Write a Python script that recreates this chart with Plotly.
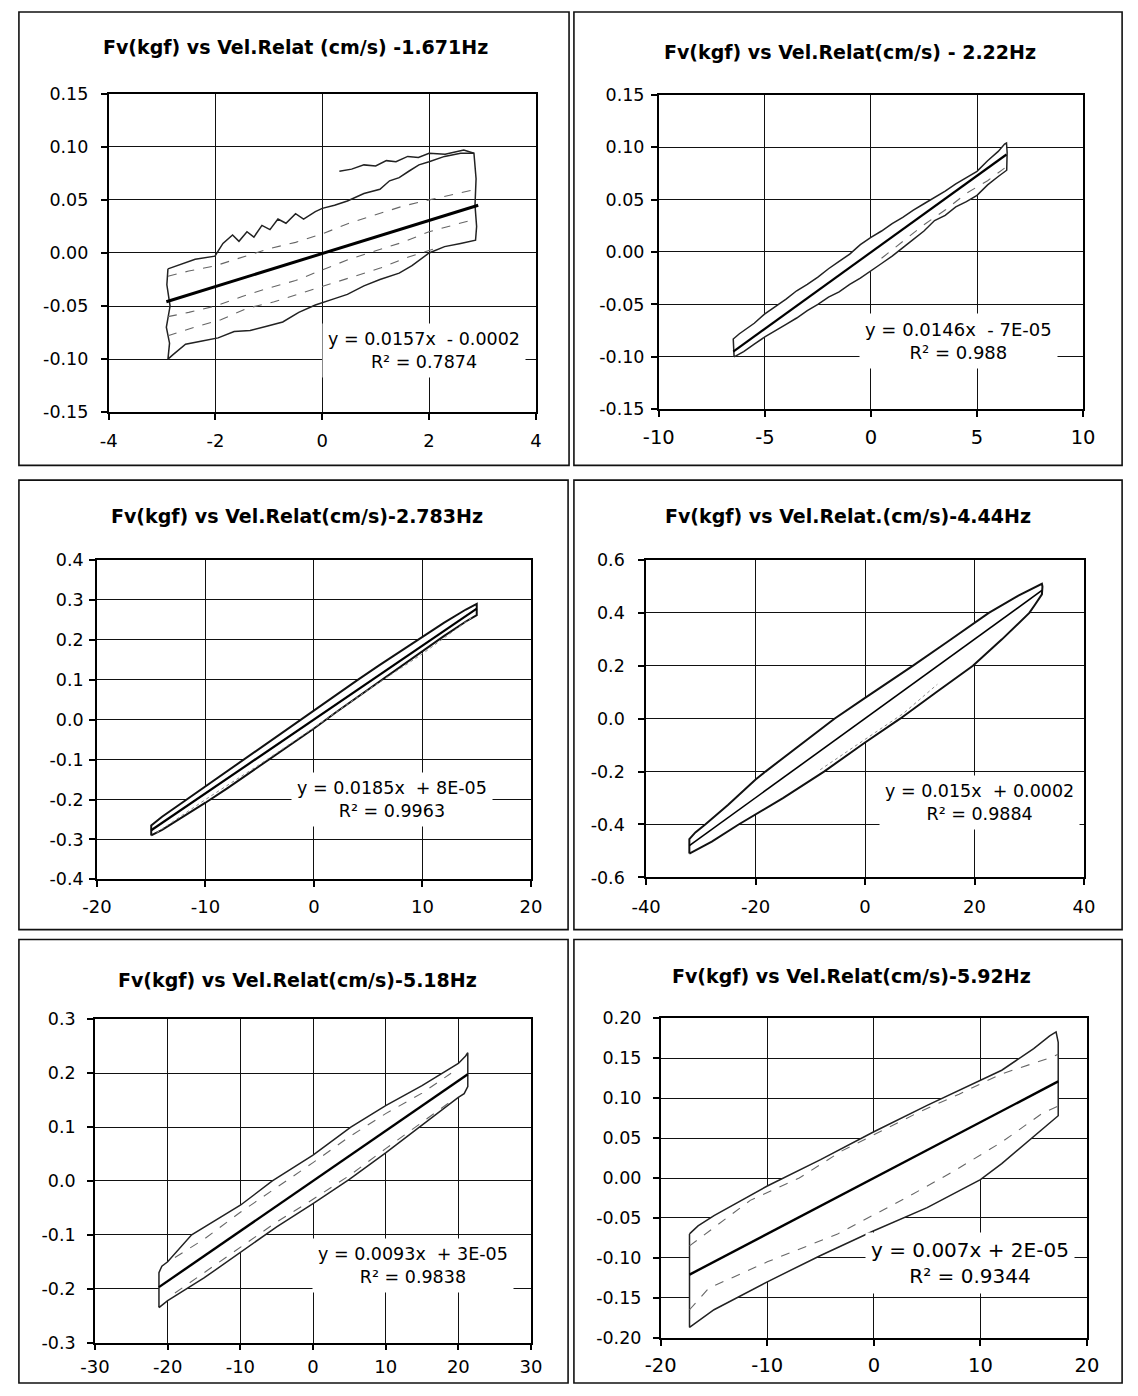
import plotly.graph_objects as go

FONT = "DejaVu Sans"
W, H = 1138, 1396

# ---------------- DATA ----------------
titles = [
    "Fv(kgf) vs Vel.Relat (cm/s) -1.671Hz",
    "Fv(kgf) vs Vel.Relat(cm/s) - 2.22Hz",
    "Fv(kgf) vs Vel.Relat(cm/s)-2.783Hz",
    "Fv(kgf) vs Vel.Relat.(cm/s)-4.44Hz",
    "Fv(kgf) vs Vel.Relat(cm/s)-5.18Hz",
    "Fv(kgf) vs Vel.Relat(cm/s)-5.92Hz",
]
equations = [
    ("y = 0.0157x  - 0.0002", "R² = 0.7874"),
    ("y = 0.0146x  - 7E-05", "R² = 0.988"),
    ("y = 0.0185x  + 8E-05", "R² = 0.9963"),
    ("y = 0.015x  + 0.0002", "R² = 0.9884"),
    ("y = 0.0093x  + 3E-05", "R² = 0.9838"),
    ("y = 0.007x + 2E-05", "R² = 0.9344"),
]

# tick values / labels
x_ticks = [[-4, -2, 0, 2, 4], [-10, -5, 0, 5, 10], [-20, -10, 0, 10, 20],
           [-40, -20, 0, 20, 40], [-30, -20, -10, 0, 10, 20, 30], [-20, -10, 0, 10, 20]]
x_ticktext = [["-4", "-2", "0", "2", "4"], ["-10", "-5", "0", "5", "10"], ["-20", "-10", "0", "10", "20"],
              ["-40", "-20", "0", "20", "40"], ["-30", "-20", "-10", "0", "10", "20", "30"],
              ["-20", "-10", "0", "10", "20"]]
y_ticks = [[-0.15, -0.10, -0.05, 0.0, 0.05, 0.10, 0.15],
           [-0.15, -0.10, -0.05, 0.0, 0.05, 0.10, 0.15],
           [-0.4, -0.3, -0.2, -0.1, 0.0, 0.1, 0.2, 0.3, 0.4],
           [-0.6, -0.4, -0.2, 0.0, 0.2, 0.4, 0.6],
           [-0.3, -0.2, -0.1, 0.0, 0.1, 0.2, 0.3],
           [-0.20, -0.15, -0.10, -0.05, 0.0, 0.05, 0.10, 0.15, 0.20]]
y_ticktext = [["-0.15", "-0.10", "-0.05", "0.00", "0.05", "0.10", "0.15"],
              ["-0.15", "-0.10", "-0.05", "0.00", "0.05", "0.10", "0.15"],
              ["-0.4", "-0.3", "-0.2", "-0.1", "0.0", "0.1", "0.2", "0.3", "0.4"],
              ["-0.6", "-0.4", "-0.2", "0.0", "0.2", "0.4", "0.6"],
              ["-0.3", "-0.2", "-0.1", "0.0", "0.1", "0.2", "0.3"],
              ["-0.20", "-0.15", "-0.10", "-0.05", "0.00", "0.05", "0.10", "0.15", "0.20"]]

# Panel 1 (1.671 Hz)
p1_loop_x = [-2.89, -2.68, -2.38, -2.01, -1.86, -1.68, -1.56, -1.41, -1.28, -1.13,
             -0.98, -0.83, -0.68, -0.50, -0.35, -0.13, 0.00, 0.23, 0.47, 0.78,
             1.08, 1.26, 1.44, 1.62, 1.81, 2.00, 2.29, 2.59, 2.84, 2.88,
             2.86, 2.89, 2.87, 2.59, 2.29, 2.00, 1.68, 1.44, 1.08, 0.78,
             0.47, 0.23, -0.13, -0.44, -0.74, -1.04, -1.35, -1.65, -1.95, -2.25,
             -2.56, -2.80, -2.89, -2.86, -2.92, -2.85, -2.91, -2.89]
p1_loop_y = [-0.015, -0.011, -0.006, -0.003, 0.009, 0.017, 0.011, 0.020, 0.015, 0.026,
             0.022, 0.032, 0.028, 0.037, 0.032, 0.039, 0.042, 0.045, 0.049, 0.056,
             0.060, 0.068, 0.071, 0.077, 0.083, 0.086, 0.091, 0.094, 0.094, 0.070,
             0.045, 0.025, 0.012, 0.009, 0.006, 0.000, -0.012, -0.019, -0.025, -0.031,
             -0.039, -0.043, -0.049, -0.056, -0.065, -0.069, -0.073, -0.074, -0.080, -0.083,
             -0.086, -0.096, -0.100, -0.085, -0.070, -0.050, -0.030, -0.015]
p1_top_x = [0.32, 0.55, 0.78, 1.00, 1.20, 1.38, 1.60, 1.80, 2.00, 2.30, 2.65, 2.84]
p1_top_y = [0.077, 0.079, 0.083, 0.082, 0.087, 0.086, 0.091, 0.090, 0.094, 0.093, 0.097, 0.094]
p1_in1_x = [-2.89, -2.5, -2.0, -1.5, -1.0, -0.5, 0.0, 0.5, 1.0, 1.5, 2.0, 2.5, 2.87]
p1_in1_y = [-0.022, -0.017, -0.012, -0.004, 0.004, 0.010, 0.018, 0.028, 0.036, 0.044, 0.050, 0.056, 0.060]
p1_in2_x = [-2.89, -2.5, -2.0, -1.5, -1.0, -0.5, 0.0, 0.5, 1.0, 1.5, 2.0, 2.5, 2.87]
p1_in2_y = [-0.060, -0.056, -0.050, -0.041, -0.033, -0.026, -0.016, -0.006, 0.002, 0.010, 0.020, 0.027, 0.032]
p1_in3_x = [-2.89, -2.4, -1.9, -1.4, -0.9, -0.4, 0.1, 0.6, 1.1, 1.6, 2.1]
p1_in3_y = [-0.078, -0.070, -0.063, -0.052, -0.046, -0.038, -0.030, -0.022, -0.014, -0.004, 0.004]
p1_trend_x = [-2.92, 2.92]
p1_trend_y = [-0.046, 0.045]

# Panel 2 (2.22 Hz)
p2_loop_x = [-6.45, -6.49, -6.2, -5.5, -5.0, -4.5, -4.0, -3.5, -3.0, -2.5, -2.0, -1.5, -1.0, -0.5,
             0.0, 0.5, 1.0, 1.5, 2.0, 2.5, 3.0, 3.5, 4.0, 4.5, 5.0, 5.5, 6.0, 6.3, 6.39,
             6.42, 6.40, 6.0, 5.5, 5.0, 4.5, 4.0, 3.5, 3.0, 2.5, 2.0, 1.5, 1.0, 0.5, 0.0,
             -0.5, -1.0, -1.5, -2.0, -2.5, -3.0, -3.5, -4.0, -4.5, -5.0, -5.5, -6.0, -6.45]
p2_loop_y = [-0.100, -0.083, -0.078, -0.068, -0.059, -0.052, -0.045, -0.037, -0.031, -0.024,
             -0.016, -0.009, -0.002, 0.007, 0.014, 0.020, 0.027, 0.033, 0.040, 0.046, 0.052,
             0.058, 0.065, 0.071, 0.077, 0.087, 0.096, 0.103, 0.104,
             0.095, 0.078, 0.072, 0.064, 0.054, 0.048, 0.043, 0.035, 0.030, 0.020, 0.012,
             0.004, -0.004, -0.011, -0.018, -0.025, -0.031, -0.038, -0.043, -0.050, -0.056,
             -0.063, -0.069, -0.075, -0.081, -0.088, -0.095, -0.100]
p2_in_x = [0.5, 1.5, 2.5, 3.5, 4.5, 5.5, 6.3]
p2_in_y = [-0.006, 0.010, 0.026, 0.040, 0.056, 0.068, 0.080]
p2_trend_x = [-6.49, 6.39]
p2_trend_y = [-0.095, 0.093]

# Panel 3 (2.783 Hz)
p3_loop_x = [-15.0, -15.0, -14, -12, -10, -8, -6, -4, -2, 0, 2, 4, 6, 8, 10, 12, 14, 15.0,
             15.0, 14, 12, 10, 8, 6, 4, 2, 0, -2, -4, -6, -8, -10, -12, -14, -15.0]
p3_loop_y = [-0.290, -0.265, -0.243, -0.205, -0.167, -0.128, -0.090, -0.051, -0.013, 0.025,
             0.062, 0.099, 0.136, 0.172, 0.208, 0.243, 0.276, 0.290,
             0.262, 0.246, 0.210, 0.172, 0.134, 0.096, 0.058, 0.018, -0.022, -0.060, -0.098,
             -0.135, -0.172, -0.208, -0.243, -0.276, -0.290]
p3_in_x = [-14.5, -10, -5, 0, 5, 10, 14.5]
p3_in_y = [-0.283, -0.200, -0.112, -0.020, 0.075, 0.165, 0.255]
p3_trend_x = [-15.0, 15.0]
p3_trend_y = [-0.277, 0.278]

# Panel 4 (4.44 Hz)
p4_loop_x = [-32.1, -32.1, -31.0, -29.2, -25.0, -20.0, -18.2, -12.0, -5.6, 0.0, 5.0, 8.7, 15.0,
             22.6, 28.0, 32.3, 32.4, 32.3, 31.0, 30.0, 25.0, 19.7, 13.0, 6.4, 0.0, -7.5,
             -15.0, -23.1, -28.0, -32.1]
p4_loop_y = [-0.510, -0.455, -0.430, -0.400, -0.325, -0.230, -0.200, -0.100, 0.000, 0.079,
             0.148, 0.200, 0.290, 0.400, 0.465, 0.510, 0.500, 0.470, 0.430, 0.400, 0.300,
             0.200, 0.100, 0.000, -0.090, -0.200, -0.300, -0.400, -0.465, -0.510]
p4_in_x = [-8.2, -3.0, 2.0, 7.0, 13.2]
p4_in_y = [-0.193, -0.120, -0.050, 0.020, 0.130]
p4_trend_x = [-32.1, 32.3]
p4_trend_y = [-0.480, 0.485]

# Panel 5 (5.18 Hz)
p5_loop_x = [-21.2, -21.2, -20.8, -20.0, -16.7, -10.0, -5.6, 0.0, 5.2, 10.0, 15.0, 17.8, 20.0,
             21.0, 21.3, 21.3, 20.8, 20.0, 15.0, 10.0, 5.0, 0.0, -5.0, -10.0, -15.0, -20.0, -21.2]
p5_loop_y = [-0.235, -0.170, -0.158, -0.150, -0.100, -0.045, 0.000, 0.048, 0.100, 0.140, 0.177,
             0.200, 0.218, 0.232, 0.238, 0.175, 0.162, 0.155, 0.103, 0.052, 0.003, -0.042,
             -0.085, -0.133, -0.180, -0.222, -0.235]
p5_in1_x = [-19, -15, -10, -5, 0, 5, 10, 15, 19]
p5_in1_y = [-0.142, -0.108, -0.058, -0.012, 0.034, 0.082, 0.125, 0.163, 0.200]
p5_in2_x = [-19, -15, -10, -5, 0, 5, 10, 15, 19]
p5_in2_y = [-0.208, -0.170, -0.122, -0.076, -0.034, 0.010, 0.060, 0.108, 0.148]
p5_trend_x = [-21.2, 21.3]
p5_trend_y = [-0.197, 0.198]

# Panel 6 (5.92 Hz)
p6_loop_x = [-17.3, -16.5, -15.0, -10.0, -5.0, 0.0, 5.0, 10.0, 12.0, 15.0, 16.5, 17.1,
             17.3, 17.3, 15.0, 12.0, 10.0, 5.0, 0.0, -5.0, -10.0, -15.0, -17.3, -17.3, -17.3]
p6_loop_y = [-0.070, -0.060, -0.047, -0.010, 0.023, 0.058, 0.091, 0.122, 0.135, 0.162, 0.178,
             0.183, 0.170, 0.078, 0.052, 0.018, -0.002, -0.037, -0.066, -0.097, -0.130,
             -0.165, -0.187, -0.167, -0.070]
p6_in1_x = [-17.3, -15.5, -10.0, -3.4, 3.0, 7.3, 12.0, 15.8, 17.3]
p6_in1_y = [-0.165, -0.138, -0.105, -0.070, -0.025, 0.007, 0.045, 0.081, 0.090]
p6_in2_x = [-17.3, -11.6, -7.0, -3.0, 4.3, 8.0, 11.9, 16.4, 17.3]
p6_in2_y = [-0.085, -0.028, 0.000, 0.034, 0.083, 0.105, 0.130, 0.150, 0.155]
p6_trend_x = [-17.3, 17.3]
p6_trend_y = [-0.121, 0.121]

# ---------------- LAYOUT (pixel geometry) ----------------
plot_px = [(95, 533, 85, 408), (659, 1094, 86, 405), (83, 528, 558, 882),
           (646, 1095, 558, 880), (81, 528, 1024, 1352), (661, 1098, 1023, 1347)]
ranges = [((-4, 4), (-0.15, 0.15)), ((-10, 10), (-0.15, 0.15)), ((-20, 20), (-0.4, 0.4)),
          ((-40, 40), (-0.6, 0.6)), ((-30, 30), (-0.3, 0.3)), ((-20, 20), (-0.2, 0.2))]
borders = [(3, 567, 2, 462), (572, 1134, 2, 462), (3, 566, 477, 933),
           (572, 1134, 477, 933), (3, 566, 943, 1393), (572, 1134, 943, 1393)]
title_pos = [(287, 38), (855, 43), (288, 513), (853, 513), (289, 984), (857, 980)]
eq_pos = [(1.90, -0.0915), (4.11, -0.085), (7.15, -0.201), (20.9, -0.317), (13.76, -0.156), (9.04, -0.107)]
eq_size = [17.5, 18, 17.5, 17.5, 17.5, 20]
xtick_size = [18, 19.5, 18, 18, 18, 19.5]
ytick_gap = [17, 11, 10, 18, 16, 16]
xtick_gap = [5, 4, 4, 6, 1, 3]

fig = go.Figure()

def add(i, x, y, **kw):
    fig.add_trace(go.Scatter(x=x, y=y, xaxis=f"x{i}", yaxis=f"y{i}", mode="lines",
                             showlegend=False, hoverinfo="skip", **kw))

LOOP = dict(color="#222222", width=1.5)
INNER = dict(color="#666666", width=1.1, dash="dash")

add(1, p1_loop_x, p1_loop_y, line=LOOP)
add(1, p1_top_x, p1_top_y, line=LOOP)
add(1, p1_in1_x, p1_in1_y, line=INNER)
add(1, p1_in2_x, p1_in2_y, line=INNER)
add(1, p1_in3_x, p1_in3_y, line=INNER)
add(1, p1_trend_x, p1_trend_y, line=dict(color="black", width=3))

add(2, p2_loop_x, p2_loop_y, line=LOOP, fill="toself", fillcolor="white")
add(2, p2_in_x, p2_in_y, line=INNER)
add(2, p2_trend_x, p2_trend_y, line=dict(color="black", width=2.2))

add(3, p3_loop_x, p3_loop_y, line=dict(color="#111111", width=2), fill="toself", fillcolor="white")
add(3, p3_in_x, p3_in_y, line=dict(color="#8a8a8a", width=1, dash="dot"))
add(3, p3_trend_x, p3_trend_y, line=dict(color="black", width=2.2))

add(4, p4_loop_x, p4_loop_y, line=dict(color="#111111", width=2), fill="toself", fillcolor="white")
add(4, p4_in_x, p4_in_y, line=dict(color="#8a8a8a", width=1, dash="dot"))
add(4, p4_trend_x, p4_trend_y, line=dict(color="black", width=1.6))

add(5, p5_loop_x, p5_loop_y, line=LOOP, fill="toself", fillcolor="white")
add(5, p5_in1_x, p5_in1_y, line=INNER)
add(5, p5_in2_x, p5_in2_y, line=INNER)
add(5, p5_trend_x, p5_trend_y, line=dict(color="black", width=2.4))

add(6, p6_loop_x, p6_loop_y, line=LOOP, fill="toself", fillcolor="white")
add(6, p6_in1_x, p6_in1_y, line=INNER)
add(6, p6_in2_x, p6_in2_y, line=INNER)
add(6, p6_trend_x, p6_trend_y, line=dict(color="black", width=2.4))

layout = dict(width=W, height=H, autosize=False, margin=dict(l=0, r=0, t=0, b=0),
              paper_bgcolor="white", plot_bgcolor="white", showlegend=False)

annotations = []
shapes = []
for k in range(6):
    i = k + 1
    l, r, t, b = plot_px[k]
    (x0, x1), (y0, y1) = ranges[k]
    common = dict(ticks="outside", ticklen=6, tickwidth=1.5, tickcolor="black",
                  showgrid=True, gridcolor="#111111", gridwidth=1,
                  showline=True, linecolor="black", linewidth=1.6, mirror=True,
                  zeroline=False, fixedrange=True)
    layout[f"xaxis{i}"] = dict(domain=[l / W, r / W], range=[x0, x1], anchor=f"y{i}",
                               tickmode="array", tickvals=x_ticks[k], ticktext=x_ticktext[k],
                               tickfont=dict(family=FONT, size=xtick_size[k], color="black"),
                               ticklabelstandoff=xtick_gap[k], **common)
    layout[f"yaxis{i}"] = dict(domain=[1 - b / H, 1 - t / H], range=[y0, y1], anchor=f"x{i}",
                               tickmode="array", tickvals=y_ticks[k], ticktext=y_ticktext[k],
                               tickfont=dict(family=FONT, size=17.5, color="black"),
                               ticklabelstandoff=ytick_gap[k] - 8, **common)
    tx, ty = title_pos[k]
    annotations.append(dict(xref="paper", yref="paper", x=tx / W, y=1 - ty / H,
                            xanchor="center", yanchor="middle", showarrow=False,
                            text=f"<b>{titles[k]}</b>",
                            font=dict(family=FONT, size=19, color="black")))
    ex, ey = eq_pos[k]
    l1, l2 = equations[k]
    annotations.append(dict(xref=f"x{i}", yref=f"y{i}", x=ex, y=ey,
                            xanchor="center", yanchor="middle", showarrow=False,
                            text=l1.replace("  ", "\u00a0\u00a0") + "<br>" + l2,
                            align="center", bgcolor="white", borderpad=5,
                            font=dict(family=FONT, size=eq_size[k], color="black")))
    bl, br, bt, bb = borders[k]
    shapes.append(dict(type="rect", xref="paper", yref="paper",
                       x0=bl / W, x1=br / W, y0=1 - bb / H, y1=1 - bt / H,
                       line=dict(color="#111111", width=1.6), fillcolor="rgba(0,0,0,0)",
                       layer="below"))

layout["annotations"] = annotations
layout["shapes"] = shapes
fig.update_layout(**layout)
fig.write_html("out.html", config={"displayModeBar": False},
               post_script="document.body.style.margin='0px';document.body.style.overflow='hidden';")
